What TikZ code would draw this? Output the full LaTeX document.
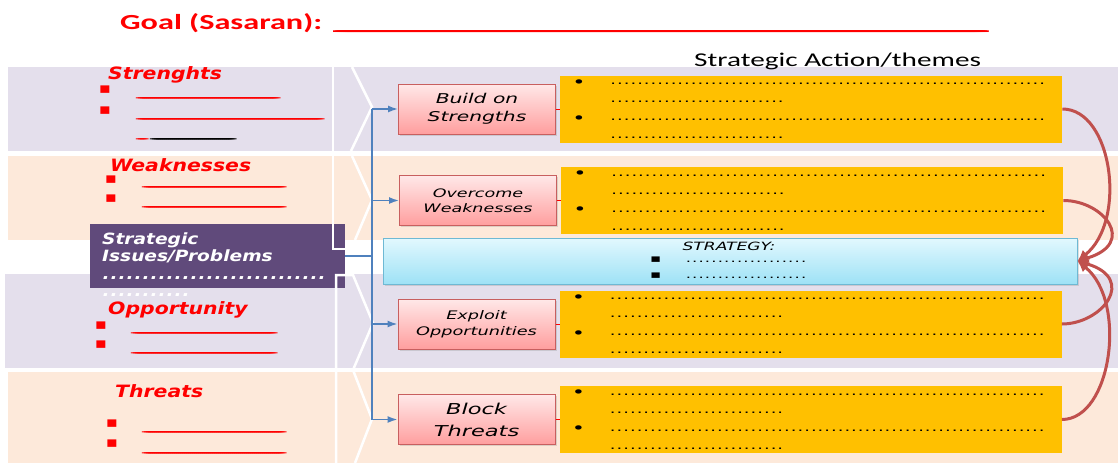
\documentclass[tikz,border=0pt]{standalone}
\usepackage{fontspec}
\setmainfont{Carlito}
\newfontfamily\titlefont{Carlito}[FakeStretch=1.5]
\newfontfamily\swotfont{DejaVu Sans}[FakeStretch=1.2,
    BoldFont={DejaVu Sans Bold},
    ItalicFont={DejaVu Sans Oblique},
    BoldItalicFont={DejaVu Sans Bold Oblique}]
\newfontfamily\boxfont{DejaVu Sans}[FakeStretch=1.5,
    ItalicFont={DejaVu Sans Oblique}]
\usetikzlibrary{positioning}
\usetikzlibrary{arrows.meta}
\usetikzlibrary{shadows}

\definecolor{lavender}{RGB}{228,223,236}
\definecolor{peach}{RGB}{253,233,218}
\definecolor{plum}{RGB}{96,74,123}
\definecolor{amber}{RGB}{255,192,0}
\definecolor{rust}{RGB}{192,80,77}
\definecolor{steel}{RGB}{79,129,189}
\definecolor{pinkedge}{RGB}{200,95,95}
\definecolor{cyanedge}{RGB}{110,185,212}
\definecolor{skytop}{RGB}{226,248,254}
\definecolor{skybot}{RGB}{158,226,246}

\newcommand\fillblank[1]{\makebox[#1][l]{\leaders\hbox to 2pt{\_\hss}\hfill}}
\newcommand\dotrun[2][6.7pt]{\makebox[#2][l]{\leaders\hbox to #1{\hss.\hss}\hfill}}
\newcommand\actbullet{\makebox[37.5pt][l]{\raisebox{-2.5pt}{\fontsize{15}{18}\selectfont\textbullet}}}
\newcommand\actlines{%
    \actbullet\dotrun{440pt}\\
    \hspace*{37.5pt}\dotrun{178pt}\\
    \actbullet\dotrun{440pt}\\
    \hspace*{37.5pt}\dotrun{178pt}}

\begin{document}
\begin{tikzpicture}[x=1pt,y=-1pt,
            node distance = 4pt,
            swot/.style = {anchor=base west,inner sep=0,text=red,
                font=\swotfont\bfseries\itshape\fontsize{17}{20}\selectfont},
            sq/.style = {inner sep=0,text=red,
                font=\swotfont\fontsize{15}{18}\selectfont},
            gap/.style = {anchor=base west,inner sep=0,text=red,
                font=\swotfont\fontsize{14}{16}\selectfont},
            theme/.style = {draw=pinkedge,line width=1pt,
                top color=red!9,bottom color=red!38,
                minimum width=157pt,minimum height=50pt,
                inner sep=0,align=center,
                drop shadow={opacity=0.25,shadow xshift=1.5pt,shadow yshift=-1.5pt}},
            action/.style = {fill=amber,minimum width=502pt,minimum height=67pt,
                inner sep=0,align=left,
                font=\boxfont\fontsize{12}{18}\selectfont},
            rim/.style = {draw=white,line width=2.5pt},
            trunk/.style = {draw=steel,line width=2pt},
            feed/.style = {draw=steel,line width=1.5pt,
                -{Latex[length=10pt,width=7pt]}},
            tie/.style = {draw=red,line width=1pt},
            swing/.style = {draw=rust,line width=3pt,
                -{Latex[length=11pt,width=11pt]}}]
            \useasboundingbox (0,0) rectangle (1118,463);
            \fill[lavender] (8,67) rectangle (1118,151);
            \fill[peach] (8,156) rectangle (1118,240);
            \fill[lavender] (5,274) rectangle (1118,368);
            \fill[peach] (8,372) rectangle (1118,463);

            \node[anchor=base west,inner sep=0,text=red,
                font=\titlefont\bfseries\fontsize{21.5}{24}\selectfont] (goal)
                at (120,29) {Goal (Sasaran):\hspace{11pt}\fillblank{642pt}};
            \node[anchor=base west,inner sep=0,
                font=\titlefont\fontsize{19.5}{22}\selectfont] (head)
                at (694,66) {Strategic Action/themes};

            \node[swot] (str) at (108,79) {Strenghts};
            \node[sq] at (105,90) {▪};
            \node[sq] at (105,111) {▪};
            \node[gap] at (136,95) {\fillblank{139pt}};
            \node[gap] at (136,116) {\fillblank{183pt}};
            \node[gap] at (136,136) {\fillblank{6pt}};
            \node[gap,text=black] at (150,136) {\fillblank{80pt}};

            \node[swot] (wea) at (110,171) {Weaknesses};
            \node[sq] at (111,180) {▪};
            \node[sq] at (111,199) {▪};
            \node[gap] at (142,184) {\fillblank{138pt}};
            \node[gap] at (142,204) {\fillblank{138pt}};

            \node[swot] (opp) at (108,314) {Opportunity};
            \node[sq] at (101,326) {▪};
            \node[sq] at (101,345) {▪};
            \node[gap] at (131,330) {\fillblank{140pt}};
            \node[gap] at (131,350) {\fillblank{140pt}};

            \node[swot] (thr) at (115,397) {Threats};
            \node[sq] at (112,424) {▪};
            \node[sq] at (112,444) {▪};
            \node[gap] at (142,429) {\fillblank{139pt}};
            \node[gap] at (142,450) {\fillblank{139pt}};

            \node[fill=plum,minimum width=255pt,minimum height=64pt,
                inner sep=0] (issue) at (217.5,256) {};
            \node[anchor=north west,inner sep=0,align=left,text=white,
                font=\swotfont\bfseries\itshape\fontsize{15.5}{17.5}\selectfont]
                (issuetext) at (102,232.5)
                {Strategic\\Issues/Problems\\\dotrun[8pt]{225pt}\\\dotrun[8pt]{88pt}};

            \draw[rim] (352,67) -- (372,107) -- (351,151);
            \draw[rim] (352,156) -- (372,200) -- (355,240);
            \draw[rim] (333,67) -- (333,249) -- (345,249);
            \draw[rim] (336,463) -- (336,275) -- (353,275) -- (373,323)
                -- (353,370) -- (372,419) -- (355,463);

            \node[theme,font=\boxfont\itshape\fontsize{13.5}{18}\selectfont]
                (build) at (477,109) {Build on\\Strengths};
            \node[theme,font=\boxfont\itshape\fontsize{11.7}{15.5}\selectfont]
                (overcome) at (478,200.5) {Overcome\\Weaknesses};
            \node[theme,font=\boxfont\itshape\fontsize{11.8}{15.5}\selectfont]
                (exploit) at (476.5,324) {Exploit\\Opportunities};
            \node[theme,font=\boxfont\itshape\fontsize{15}{22}\selectfont]
                (block) at (476.5,419.5) {Block\\Threats};

            \node[action,right=of build] (act1) {\actlines};
            \node[action,right=of overcome] (act2) {\actlines};
            \node[action,right=of exploit] (act3) {\actlines};
            \node[action,right=of block] (act4) {\actlines};

            \node[draw=cyanedge,line width=1pt,top color=skytop,bottom color=skybot,
                minimum width=694pt,minimum height=46pt,inner sep=0,
                drop shadow={opacity=0.25,shadow xshift=1.5pt,shadow yshift=-1.5pt}]
                (strat) at (730,261) {};
            \node[inner sep=0,font=\boxfont\itshape\fontsize{11.4}{14}\selectfont]
                (stitle) at (729,246) {STRATEGY:};
            \node[anchor=north west,inner sep=0,align=left,
                font=\boxfont\fontsize{11}{16}\selectfont] (slist) at (650,257)
                {\makebox[35pt][l]{▪}\dotrun[6.4pt]{122pt}\\
                \makebox[35pt][l]{▪}\dotrun[6.4pt]{122pt}};

            \coordinate (spine) at (371.5,256);
            \draw[trunk] (issue.east) -- (spine);
            \draw[trunk] (spine |- build.west) -- (spine |- block.west);
            \draw[feed] (spine |- build.west) -- (build.west);
            \draw[feed] (spine |- overcome.west) -- (overcome.west);
            \draw[feed] (spine |- exploit.west) -- (exploit.west);
            \draw[feed] (spine |- block.west) -- (block.west);

            \draw[tie] (build) -- (act1);
            \draw[tie] (overcome) -- (act2);
            \draw[tie] (exploit) -- (act3);
            \draw[tie] (block) -- (act4);

            \draw[swing] (act1.east) .. controls +(50,0) and +(50,-40) .. (strat.east);
            \draw[swing] (act2.east) .. controls +(40,0) and +(60,-18) .. (strat.east);
            \draw[swing] (act3.east) .. controls +(40,0) and +(60,18) .. (strat.east);
            \draw[swing] (act4.east) .. controls +(50,0) and +(50,40) .. (strat.east);
        \end{tikzpicture}
\end{document}
